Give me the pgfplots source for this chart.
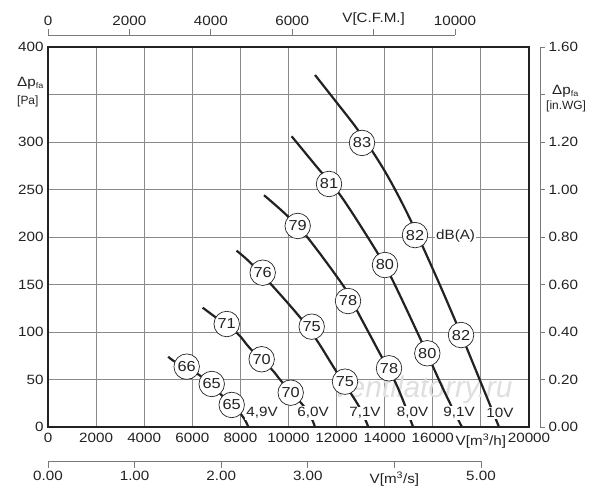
\documentclass[border=0pt]{standalone}
\usepackage{pgfplots}
\pgfplotsset{compat=1.18}
\usepackage{fontspec}
\setmainfont{Liberation Sans}
\newfontfamily\tf{Liberation Sans}[FakeStretch=1.13]
\definecolor{ink}{HTML}{222222}
\definecolor{gridc}{HTML}{8A8A8A}
\definecolor{sec}{HTML}{7A7A7A}

\begin{document}
\begin{tikzpicture}[x=1bp,y=1bp]
\useasboundingbox (0,0) rectangle (600,500);
\pgfplotsset{
  every tick label/.append style={font=\tf\fontsize{13.5}{15}\selectfont, text=ink},
  scaled ticks=false,
}
\tikzset{
  dbc/.style={circle, draw=ink, line width=0.7bp, fill=white, minimum size=25.5bp, inner sep=0pt, font=\tf\fontsize{14.5}{15}\selectfont, text=ink},
  vl/.style={fill=white, inner sep=1bp, font=\tf\fontsize{13.5}{15}\selectfont, text=ink},
  crv/.style={line width=2.2bp, ink, smooth, tension=0.55},
}

% main axis
\begin{axis}[
  at={(48bp,73bp)}, anchor=south west,
  scale only axis, width=481bp, height=380bp,
  xmin=0, xmax=20000, ymin=0, ymax=400,
  xtick={0,2000,4000,6000,8000,10000,12000,14000,16000,18000,20000},
  xticklabels={0,2000,4000,6000,8000,10000,12000,14000,16000,{V[m\textsuperscript{3}/h]},20000},
  ytick={0,50,100,150,200,250,300,350,400},
  yticklabels={0,50,100,150,200,250,300,{},400},
  major tick length=0pt,
  grid=major,
  major grid style={gridc, line width=0.9bp},
  axis line style={line width=2.6bp, ink},
  clip=false,
  xticklabel style={yshift=-3bp},
  yticklabel style={xshift=-1bp},
]
\node[font=\itshape\fontsize{30}{30}\selectfont, text=gray!25] at (axis cs:15600,39) {ventilatorry.ru};

\addplot[crv] coordinates {(11102,370.5)(12017,341.1)(12827,314.7)(13534,288.4)(14096,265.3)(14615,241.1)(15073,217.9)(15551,191.6)(16258,151.6)(16923,112.6)(17410,83.2)(18378,23.2)(18753,0)};
\addplot[crv] coordinates {(10130,306)(11170,274)(12210,242)(13670,184.5)(14290,156.5)(15470,93.4)(16490,36.8)(17210,0)};
\addplot[crv] coordinates {(8980,244)(9920,223)(10820,198.6)(12350,146)(12900,120)(13870,74)(14430,47.7)(14840,23)(15180,0)};
\addplot[crv] coordinates {(7840,185.6)(8370,174)(9300,149.5)(10480,115.4)(11170,91.6)(12000,58)(12900,23)(13320,0)};
\addplot[crv] coordinates {(6430,125.6)(6940,116)(7870,98.6)(8400,82.8)(9300,60.7)(9720,47.7)(10760,18)(11100,0)};
\addplot[crv] coordinates {(5000,74)(5280,68.7)(6290,54.7)(7200,34)(8050,12.6)(8330,0)};

% dB circles
\node[dbc] at (axis cs:13056,299) {83};
\node[dbc] at (axis cs:15260,202) {82};
\node[dbc] at (axis cs:17173,96.8) {82};
\node[dbc] at (axis cs:11684,255.8) {81};
\node[dbc] at (axis cs:14012,170.5) {80};
\node[dbc] at (axis cs:15771,77.6) {80};
\node[dbc] at (axis cs:10382,211.6) {79};
\node[dbc] at (axis cs:12474,132.6) {78};
\node[dbc] at (axis cs:14179,61.8) {78};
\node[dbc] at (axis cs:8927,162.4) {76};
\node[dbc] at (axis cs:10964,105.6) {75};
\node[dbc] at (axis cs:12349,47.7) {75};
\node[dbc] at (axis cs:7430,108.4) {71};
\node[dbc] at (axis cs:8885,71.3) {70};
\node[dbc] at (axis cs:10091,36.1) {70};
\node[dbc] at (axis cs:5767,63.5) {66};
\node[dbc] at (axis cs:6807,45.3) {65};
\node[dbc] at (axis cs:7638,23.2) {65};

\node[vl, anchor=west] at (axis cs:16090,201) {dB(A)};

% voltage labels
\node[vl] at (axis cs:8900,14.7) {4,9V};
\node[vl] at (axis cs:11020,14.7) {6,0V};
\node[vl] at (axis cs:13180,14.7) {7,1V};
\node[vl] at (axis cs:15160,14.7) {8,0V};
\node[vl] at (axis cs:17090,14.7) {9,1V};
\node[vl] at (axis cs:18790,14.7) {10V};
\end{axis}

% top C.F.M. axis
\begin{axis}[
  at={(48bp,465bp)}, anchor=north west,
  scale only axis, width=407bp, height=10bp,
  xmin=0, xmax=10000, ymin=0, ymax=1,
  axis x line=top, hide y axis,
  axis line style={-, sec, line width=0.8bp},
  xtick={0,2000,4000,6000,8000,10000},
  xticklabels={0,2000,4000,6000,{V[C.F.M.]},10000},
  tick align=outside, major tick length=6bp,
  tick style={sec, line width=0.8bp},
]
\end{axis}

% bottom m3/s axis
\begin{axis}[
  at={(48bp,39bp)}, anchor=south west,
  scale only axis, width=433bp, height=10bp,
  xmin=0, xmax=5, ymin=0, ymax=1,
  axis x line=bottom, hide y axis,
  axis line style={-, sec, line width=0.8bp},
  xtick={0,1,2,3,4,5},
  xticklabels={0.00,1.00,2.00,3.00,{V[m\textsuperscript{3}/s]},5.00},
  tick align=outside, major tick length=7bp,
  tick style={sec, line width=0.8bp},
]
\end{axis}

% right in.WG axis
\begin{axis}[
  at={(540bp,73bp)}, anchor=south east,
  scale only axis, width=10bp, height=380bp,
  xmin=0, xmax=1, ymin=0, ymax=1.6,
  axis y line=right, hide x axis,
  axis line style={-, sec, line width=0.8bp},
  ytick={0,0.2,0.4,0.6,0.8,1.0,1.2,1.4,1.6},
  yticklabels={0.00,0.20,0.40,0.60,0.80,1.00,1.20,{},1.60},
  tick align=outside, major tick length=5bp,
  tick style={sec, line width=0.8bp},
]
\end{axis}

% axis titles
\node[anchor=base west, inner sep=0, text=ink, font=\tf\fontsize{13.5}{15}\selectfont] at (17,413) {Δp\raisebox{-2bp}{\fontsize{8}{8}\selectfont fa}};
\node[anchor=base west, inner sep=0, text=ink, font=\fontsize{12}{14}\selectfont] at (17,395) {[Pa]};
\node[anchor=base west, inner sep=0, text=ink, font=\tf\fontsize{13.5}{15}\selectfont] at (552,405) {Δp\raisebox{-2bp}{\fontsize{8}{8}\selectfont fa}};
\node[anchor=base west, inner sep=0, text=ink, font=\fontsize{12}{14}\selectfont] at (546,390) {[in.WG]};
\end{tikzpicture}
\end{document}
